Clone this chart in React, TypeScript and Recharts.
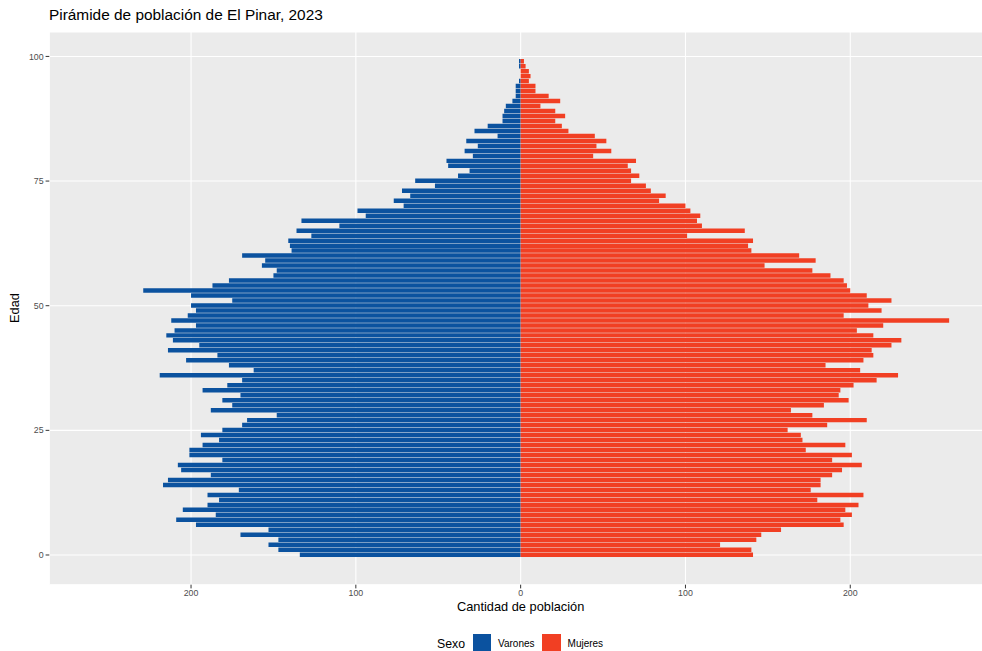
import { BarChart, Bar, XAxis, YAxis, CartesianGrid, Label } from "recharts";

// Edad simple (0-99)
const AGES = [
  0, 1, 2, 3, 4, 5, 6, 7, 8, 9,
  10, 11, 12, 13, 14, 15, 16, 17, 18, 19,
  20, 21, 22, 23, 24, 25, 26, 27, 28, 29,
  30, 31, 32, 33, 34, 35, 36, 37, 38, 39,
  40, 41, 42, 43, 44, 45, 46, 47, 48, 49,
  50, 51, 52, 53, 54, 55, 56, 57, 58, 59,
  60, 61, 62, 63, 64, 65, 66, 67, 68, 69,
  70, 71, 72, 73, 74, 75, 76, 77, 78, 79,
  80, 81, 82, 83, 84, 85, 86, 87, 88, 89,
  90, 91, 92, 93, 94, 95, 96, 97, 98, 99,
];

const VARONES = [
  134, 147, 153, 147, 170, 153, 197, 209, 185, 205,
  190, 183, 190, 171, 217, 214, 188, 206, 208, 181,
  201, 201, 193, 183, 194, 181, 169, 166, 148, 188,
  175, 181, 170, 193, 178, 169, 219, 162, 177, 203,
  184, 214, 195, 211, 215, 210, 197, 212, 202, 197,
  200, 175, 200, 229, 187, 177, 150, 148, 157, 155,
  169, 139, 140, 141, 127, 136, 110, 133, 94, 99,
  71, 77, 67, 72, 52, 64, 38, 31, 44, 45,
  29, 34, 26, 33, 14, 28, 20, 11, 11, 10,
  9, 5, 3, 3, 3, 1, 0, 0, 1, 1,
];

const MUJERES = [
  141, 140, 121, 143, 146, 158, 196, 194, 201, 197,
  205, 180, 208, 176, 182, 182, 189, 195, 207, 189,
  201, 173, 197, 171, 170, 162, 186, 210, 177, 164,
  184, 199, 193, 194, 202, 216, 229, 206, 185, 208,
  214, 213, 225, 231, 214, 204, 220, 260, 196, 219,
  211, 225, 210, 200, 198, 196, 188, 177, 148, 179,
  169, 140, 138, 141, 101, 136, 110, 107, 109, 103,
  100, 84, 88, 79, 76, 67, 72, 67, 65, 70,
  44, 55, 46, 52, 45, 29, 25, 21, 27, 21,
  12, 24, 17, 9, 9, 5, 6, 5, 3, 2,
];

const X_TICKS = [-200, -100, 0, 100, 200];
const Y_TICKS = [0, 25, 50, 75, 100];

const BLUE = "#0b529f";
const RED = "#f13f23";
const FONT = '"Liberation Sans", Arial, sans-serif';

const data = AGES.map((age, i) => ({
  age,
  varones: -VARONES[i],
  mujeres: MUJERES[i],
}));

export default function App() {
  return (
    <div
      style={{
        position: "absolute",
        left: 0,
        top: 0,
        width: 982,
        height: 651,
        overflow: "hidden",
        background: "#ffffff",
        fontFamily: FONT,
      }}
    >
      <div style={{ position: "absolute", left: 49, top: 7, fontSize: 15.4, lineHeight: 1, color: "#000", whiteSpace: "nowrap" }}>
        Pirámide de población de El Pinar, 2023
      </div>

      <div
        style={{
          position: "absolute",
          left: 14.5,
          top: 308,
          fontSize: 12.8,
          lineHeight: 1,
          color: "#000",
          whiteSpace: "nowrap",
          transform: "translate(-50%, -50%) rotate(-90deg)",
        }}
      >
        Edad
      </div>

      <BarChart
        width={995}
        height={651}
        data={data}
        layout="vertical"
        stackOffset="sign"
        barSize={4.49}
        margin={{ top: 32, right: 3, bottom: 36.3, left: 0 }}
        style={{ fontFamily: FONT }}
      >
        <CartesianGrid fill="#ebebeb" fillOpacity={1} stroke="#ffffff" strokeWidth={1.1} />
        <XAxis
          type="number"
          domain={[-286, 286]}
          ticks={X_TICKS}
          interval={0}
          allowDataOverflow
          height={30}
          axisLine={false}
          tickSize={3.7}
          tickMargin={1.5}
          tickLine={{ stroke: "#333333" }}
          tick={{ fontSize: 8.8, fill: "#4d4d4d" }}
          tickFormatter={(v) => String(Math.abs(v))}
        >
          <Label value="Cantidad de población" position="insideBottom" offset={4} style={{ fontSize: 12.8, fill: "#000" }} />
        </XAxis>
        <YAxis
          type="number"
          dataKey="age"
          domain={[-5.96, 104.9]}
          ticks={Y_TICKS}
          interval={0}
          reversed
          allowDataOverflow
          width={49.3}
          axisLine={false}
          tickSize={3.7}
          tickMargin={2}
          tickLine={{ stroke: "#333333" }}
          tick={{ fontSize: 8.8, fill: "#4d4d4d" }}
        />
        <Bar dataKey="varones" stackId="s" fill={BLUE} isAnimationActive={false} />
        <Bar dataKey="mujeres" stackId="s" fill={RED} isAnimationActive={false} />
      </BarChart>

      <div
        style={{
          position: "absolute",
          left: 437,
          top: 634,
          height: 19,
          display: "flex",
          alignItems: "center",
          whiteSpace: "nowrap",
          color: "#000",
        }}
      >
        <span style={{ fontSize: 12.3, marginRight: 7.5 }}>Sexo</span>
        <span style={{ width: 18.5, height: 19, background: BLUE, display: "inline-block" }} />
        <span style={{ fontSize: 10, marginLeft: 7, marginRight: 7.5 }}>Varones</span>
        <span style={{ width: 18.5, height: 19, background: RED, display: "inline-block" }} />
        <span style={{ fontSize: 10, marginLeft: 7 }}>Mujeres</span>
      </div>
    </div>
  );
}
